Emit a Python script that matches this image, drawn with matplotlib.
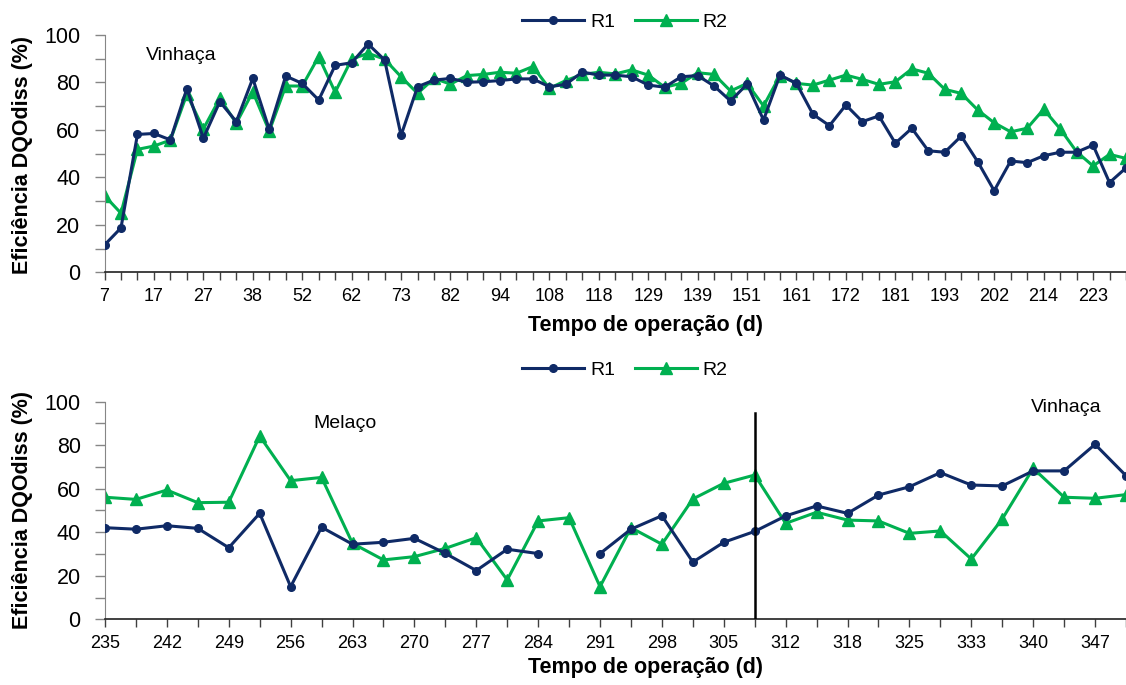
"""Eficiencia de remocao de DQO dissolvida em R1 e R2 (vinhaca / melaco)."""

import numpy as np
import matplotlib
matplotlib.use('Agg')
import matplotlib.pyplot as plt

plt.rcParams['font.family'] = ['Liberation Sans', 'DejaVu Sans']

# --- data -------------------------------------------------------------
# painel superior: um ponto por coleta, rotulo a cada 3 coletas
top_day_labels = [7, 17, 27, 38, 52, 62, 73, 82, 94, 108, 118, 129, 139,
                  151, 161, 172, 181, 193, 202, 214, 223]
top_r1 = [11.5, 18.7, 58.1, 58.5, 55.8, 77.4, 56.5, 71.9, 63.5, 81.7,
          60.2, 82.7, 79.6, 72.6, 87.2, 88.3, 96.2, 89.5, 57.7, 78.2,
          81.0, 81.7, 80.1, 80.3, 80.8, 81.5, 81.5, 78.2, 79.2, 84.4,
          83.1, 83.1, 82.4, 78.9, 78.0, 82.4, 82.9, 78.5, 72.2, 79.3,
          64.2, 83.1, 79.6, 66.6, 61.8, 70.5, 63.5, 65.9, 54.4, 60.7,
          51.2, 50.6, 57.4, 46.6, 34.4, 46.9, 46.2, 49.1, 50.6, 50.6,
          53.6, 37.8, 44.0]
top_r2 = [32.3, 24.9, 51.8, 53.2, 55.7, 75.1, 60.4, 73.3, 62.8, 76.1,
          59.5, 78.5, 78.5, 90.9, 75.9, 89.8, 92.3, 89.8, 82.4, 75.4,
          81.7, 79.3, 82.9, 83.4, 84.3, 83.9, 86.7, 77.5, 80.8, 83.4,
          84.3, 83.6, 85.3, 83.1, 78.0, 79.6, 84.1, 83.4, 76.4, 79.6,
          70.1, 82.9, 79.6, 78.9, 81.0, 83.1, 81.3, 79.2, 80.3, 85.7,
          83.9, 77.1, 75.4, 68.4, 63.0, 59.2, 60.7, 68.7, 60.5, 50.8,
          44.8, 49.7, 48.0]

# painel inferior: rotulo a cada 2 coletas
bot_day_labels = [235, 242, 249, 256, 263, 270, 277, 284, 291, 298, 305,
                  312, 318, 325, 333, 340, 347]
bot_r1 = [42.1, 41.4, 43.0, 41.8, 32.9, 48.7, 15.0, 42.3, 34.5, 35.4,
          37.2, 30.3, 22.4, 32.2, 30.2, np.nan, 30.2, 41.4, 47.6, 26.3,
          35.4, 40.4, 47.5, 52.1, 48.7, 57.1, 60.9, 67.4, 61.7, 61.3,
          68.2, 68.2, 80.4, 66.0]
bot_r2 = [56.1, 55.1, 59.4, 53.6, 53.8, 84.2, 63.7, 65.2, 34.9, 27.3,
          28.8, 32.6, 37.5, 18.1, 45.2, 46.7, 15.0, 42.1, 34.5, 55.3,
          62.5, 66.3, 44.1, 49.2, 45.6, 45.2, 39.5, 40.6, 27.7, 46.1,
          69.4, 56.1, 55.6, 57.3]

# troca melaco -> vinhaca (indice da coleta)
switch_idx = 21

# --- style ------------------------------------------------------------
C_R1 = '#0f2a66'
C_R2 = '#00b050'
AX_GRAY = '#868686'
XTICK_FS = 13
YTICK_FS = 15.5
LABEL_FS = 15.5


def style_axis(ax, n_pts, label_every, labels, xmax):
    ax.set_ylim(0, 100)
    ax.set_xlim(0, xmax)
    ax.set_yticks(range(0, 101, 20))
    ax.set_yticks(range(10, 100, 20), minor=True)
    ax.tick_params(axis='y', which='both', length=7, width=1, color=AX_GRAY,
                   labelsize=YTICK_FS, pad=10.5, direction='out')
    ticks = list(range(n_pts))
    tick_labels = [''] * n_pts
    for i, lab in enumerate(labels):
        tick_labels[i * label_every] = str(lab)
    ax.set_xticks(ticks)
    ax.set_xticklabels(tick_labels)
    ax.tick_params(axis='x', length=6, width=1, color='#404040',
                   labelsize=XTICK_FS, pad=5, direction='out')
    for side in ['top', 'right']:
        ax.spines[side].set_visible(False)
    ax.spines['left'].set_color(AX_GRAY)
    ax.spines['bottom'].set_color('#202020')
    ax.spines['bottom'].set_linewidth(1.2)


def plot_series(ax, r1, r2):
    x = np.arange(len(r1))
    ax.plot(x, r1, color=C_R1, lw=2.2, marker='o', ms=5.5, label='R1',
            clip_on=True, zorder=3)
    ax.plot(x, r2, color=C_R2, lw=2.2, marker='^', ms=8.5, label='R2',
            clip_on=True, zorder=2)


fig = plt.figure(figsize=(11.26, 6.85), dpi=100)

# painel superior
ax1 = fig.add_axes([104.5 / 1126, 1 - 272.3 / 685, (1126 - 104.5) / 1126, 237.3 / 685])
plot_series(ax1, top_r1, top_r2)
style_axis(ax1, len(top_r1), 3, top_day_labels, (1126 - 104.5) / 16.6)
ax1.text(181 / 1126, 1 - 56 / 685, 'Vinhaça', transform=fig.transFigure,
         ha='center', va='center', fontsize=14)
ax1.legend(loc='center', bbox_to_anchor=(625 / 1126, 1 - 22 / 685),
           bbox_transform=fig.transFigure, ncol=2, frameon=False,
           fontsize=14, handlelength=3.2, columnspacing=1.0, handletextpad=0.3)
fig.text(645 / 1126, 1 - 325 / 685, 'Tempo de operação (d)', ha='center',
         va='center', fontsize=LABEL_FS, fontweight='bold')
fig.text(23 / 1126, 1 - 155 / 685, 'Eficiência DQOdiss (%)', ha='center',
         va='center', rotation=90, fontsize=LABEL_FS, fontweight='bold')

# painel inferior
ax2 = fig.add_axes([105 / 1126, 1 - 619.3 / 685, (1126 - 105) / 1126, 217.6 / 685])
plot_series(ax2, bot_r1, bot_r2)
style_axis(ax2, len(bot_r1), 2, bot_day_labels, (1126 - 105) / 31.1)
ax2.plot([switch_idx, switch_idx], [0, 94.7], color='black', lw=1.8, zorder=4)
ax2.text(345 / 1126, 1 - 424 / 685, 'Melaço', transform=fig.transFigure,
         ha='center', va='center', fontsize=14)
ax2.text(1066 / 1126, 1 - 407 / 685, 'Vinhaça', transform=fig.transFigure,
         ha='center', va='center', fontsize=14)
ax2.legend(loc='center', bbox_to_anchor=(625 / 1126, 1 - 370 / 685),
           bbox_transform=fig.transFigure, ncol=2, frameon=False,
           fontsize=14, handlelength=3.2, columnspacing=1.0, handletextpad=0.3)
fig.text(645 / 1126, 1 - 668 / 685, 'Tempo de operação (d)', ha='center',
         va='center', fontsize=LABEL_FS, fontweight='bold')
fig.text(23 / 1126, 1 - 510 / 685, 'Eficiência DQOdiss (%)', ha='center',
         va='center', rotation=90, fontsize=LABEL_FS, fontweight='bold')

fig.savefig('out.png', dpi=100)
